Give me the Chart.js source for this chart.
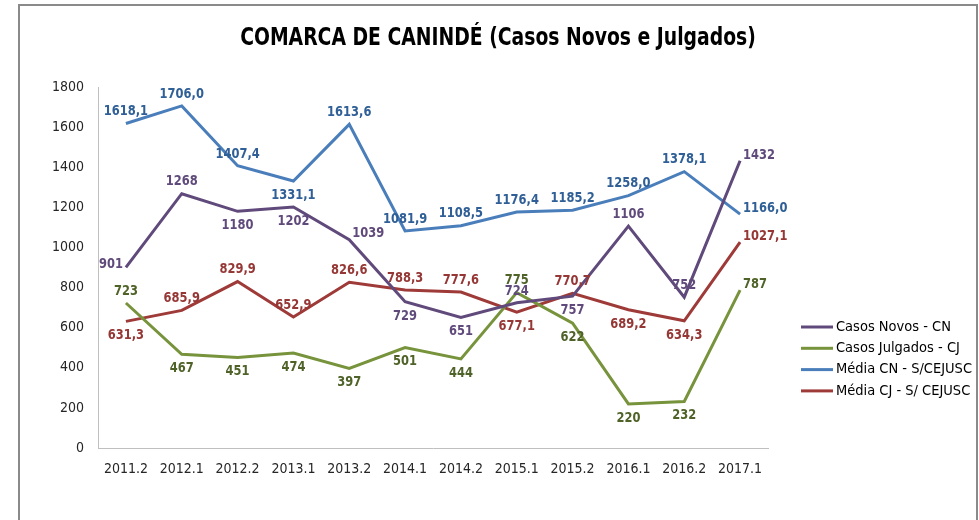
<!DOCTYPE html>
<html>
<head>
<meta charset="utf-8">
<script src="https://cdn.jsdelivr.net/npm/chart.js@4.4.1/dist/chart.umd.min.js"></script>
<style>
  html,body{margin:0;padding:0;background:#fff;}
  #wrap{position:relative;width:979px;height:520px;}
</style>
</head>
<body>
<div id="wrap"><canvas id="c" width="979" height="520"></canvas></div>
<script>
// ─── DADOS ───
const periodos = ['2011.2','2012.1','2012.2','2013.1','2013.2','2014.1','2014.2','2015.1','2015.2','2016.1','2016.2','2017.1'];
const casosNovos = [901,1268,1180,1202,1039,729,651,724,757,1106,752,1432];
const casosJulgados = [723,467,451,474,397,501,444,775,622,220,232,787];
const mediaCN = [1618.1,1706.0,1407.4,1331.1,1613.6,1081.9,1108.5,1176.4,1185.2,1258.0,1378.1,1166.0];
const mediaCJ = [631.3,685.9,829.9,652.9,826.6,788.3,777.6,677.1,770.7,689.2,634.3,1027.1];
const yTicks = [0,200,400,600,800,1000,1200,1400,1600,1800];

// posição dos rótulos (a = acima, b = abaixo, l = esquerda, r = direita)
const posCN  = ['l','a','b','b','r','b','b','a','b','a','a','r'];
const posCJ  = ['a','b','b','b','b','b','b','a','b','b','b','r'];
const posMCN = ['a','a','a','b','a','a','a','a','a','a','a','r'];
const posMCJ = ['b','a','a','a','a','a','a','b','a','b','b','r'];

const FONT = '"DejaVu Sans Condensed","Liberation Sans Narrow",sans-serif';
const fmtInt = v => String(v);
const fmtDec = v => v.toFixed(1).replace('.', ',');

const series = [
  {label:'Casos Novos - CN', data:casosNovos, color:'#604A7B', txt:'#604A7B', pos:posCN, fmt:fmtInt},
  {label:'Casos Julgados - CJ', data:casosJulgados, color:'#77933C', txt:'#4F6228', pos:posCJ, fmt:fmtInt},
  {label:'Média CN - S/CEJUSC', data:mediaCN, color:'#4A7EBB', txt:'#2F5F96', pos:posMCN, fmt:fmtDec},
  {label:'Média CJ - S/ CEJUSC', data:mediaCJ, color:'#9E3A38', txt:'#953735', pos:posMCJ, fmt:fmtDec}
];

// texto estreitado (imita Calibri)
function narrowText(ctx, t, x, y, sx) {
  ctx.save();
  ctx.translate(x, y);
  ctx.scale(sx, 1);
  ctx.fillText(t, 0, 0);
  ctx.restore();
}

const framePlugin = {
  id:'frame',
  beforeDraw(chart){
    const ctx = chart.ctx;
    ctx.save();
    ctx.fillStyle = '#fff';
    ctx.fillRect(0,0,chart.width,chart.height);
    ctx.strokeStyle = '#8a8a8a';
    ctx.lineWidth = 2;
    ctx.beginPath();
    ctx.moveTo(19,520); ctx.lineTo(19,5); ctx.lineTo(977,5); ctx.lineTo(977,520);
    ctx.stroke();
    ctx.fillStyle = '#000';
    ctx.font = 'bold 24px ' + FONT;
    ctx.textAlign = 'center';
    ctx.textBaseline = 'middle';
    narrowText(ctx, 'COMARCA DE CANINDÉ (Casos Novos e Julgados)', 498, 39, 0.87);
    ctx.restore();
  }
};

const labelsPlugin = {
  id:'rotulos',
  afterDatasetsDraw(chart){
    const ctx = chart.ctx;
    ctx.save();
    ctx.font = 'bold 14.5px ' + FONT;
    ctx.textBaseline = 'middle';
    series.forEach((s,i) => {
      const meta = chart.getDatasetMeta(i);
      meta.data.forEach((pt,j) => {
        const t = s.fmt(s.data[j]);
        let x = pt.x, y = pt.y;
        ctx.textAlign = 'center';
        if (s.pos[j]==='a') y -= 12;
        else if (s.pos[j]==='b') y += 14;
        else if (s.pos[j]==='l') { ctx.textAlign='right'; x -= 3; y -= 3; }
        else { ctx.textAlign='left'; x += 3; y -= 6; }
        ctx.fillStyle = s.txt;
        narrowText(ctx, t, x, y, 0.88);
      });
    });
    // legenda
    ctx.font = '14.5px ' + FONT;
    ctx.textAlign = 'left';
    series.forEach((s,i) => {
      const y = 327 + i*21.3;
      ctx.strokeStyle = s.color;
      ctx.lineWidth = 3;
      ctx.beginPath(); ctx.moveTo(801,y); ctx.lineTo(833,y); ctx.stroke();
      ctx.fillStyle = '#000';
      ctx.fillText(s.label, 836, y);
    });
    ctx.restore();
  }
};

new Chart(document.getElementById('c').getContext('2d'), {
  type:'line',
  data:{
    labels:periodos,
    datasets:series.map(s => ({
      label:s.label, data:s.data, borderColor:s.color, backgroundColor:s.color,
      borderWidth:3, pointRadius:0, tension:0, fill:false
    }))
  },
  options:{
    responsive:false, animation:false,
    layout:{padding:{left:0, right:211, top:87, bottom:32}},
    plugins:{legend:{display:false}, title:{display:false}, tooltip:{enabled:false}},
    scales:{
      x:{
        offset:true,
        grid:{display:false, drawTicks:false},
        border:{color:'#bfbfbf', width:1},
        ticks:{color:'#262626', font:{family:FONT, size:14}, padding:13, maxRotation:0, autoSkip:false},
        afterFit(sc){ sc.height = 40; }
      },
      y:{
        min:0, max:1800,
        afterBuildTicks(sc){ sc.ticks = yTicks.map(v => ({value:v})); },
        grid:{display:false, drawTicks:false},
        border:{color:'#bfbfbf', width:1},
        ticks:{color:'#262626', font:{family:FONT, size:14}, padding:14, callback:v => String(v)},
        afterFit(sc){ sc.width = 98; }
      }
    }
  },
  plugins:[framePlugin, labelsPlugin]
});
</script>
</body>
</html>
